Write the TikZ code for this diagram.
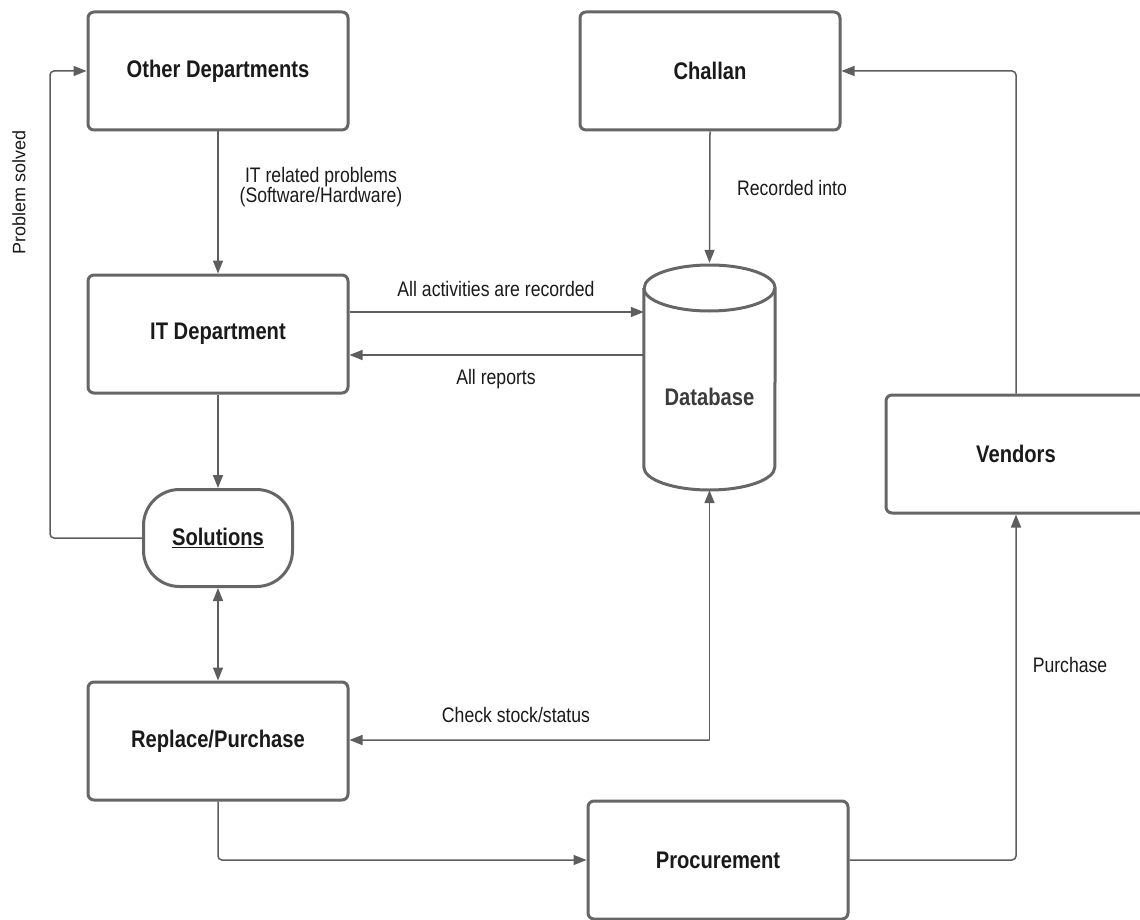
\documentclass[tikz,border=0pt]{standalone}
\usepackage{fontspec}
\setmainfont{Liberation Sans}
\newfontfamily\narrowfont[FakeStretch=0.84]{Liberation Sans}
\usetikzlibrary{arrows.meta,calc}
\definecolor{linegray}{HTML}{5E5E5E}
\definecolor{boxgray}{HTML}{666666}
\definecolor{txt}{HTML}{1A1A1A}
\begin{document}
\begin{tikzpicture}[x=1pt,y=-1pt,
  stepbox/.style={draw=boxgray,line width=3pt,rounded corners=6pt,fill=white,
    minimum width=260pt,minimum height=118pt,inner sep=0pt,
    font=\narrowfont\bfseries\fontsize{24}{28}\selectfont,text=txt},
  pill/.style={draw=boxgray,line width=3pt,rounded corners=36pt,fill=white,
    minimum width=149pt,minimum height=97pt,inner sep=0pt,
    font=\narrowfont\bfseries\fontsize{24}{28}\selectfont,text=txt},
  conn/.style={draw=linegray,line width=1.5pt},
  arr/.style={conn,-{Triangle[length=13pt,width=10pt]}},
  darr/.style={conn,{Triangle[length=13pt,width=10pt]}-{Triangle[length=13pt,width=10pt]}},
  lbl/.style={font=\narrowfont\fontsize{21}{20}\selectfont,text=txt,inner sep=1pt,align=center}]
\useasboundingbox (0,0) rectangle (1140,920);
\fill[white] (0,0) rectangle (1140,920);

% boxes
\node[stepbox] (other) at (218,71) {Other Departments};
\node[stepbox] (challan) at (710,71) {Challan};
\node[stepbox] (it) at (218,334) {IT Department};
\node[pill] (sol) at (218,538) {\underline{Solutions}};
\node[stepbox] (repl) at (218,741) {Replace/Purchase};
\node[stepbox] (vend) at (1016,454) {Vendors};
\node[stepbox] (proc) at (718,860) {Procurement};

% database cylinder
\node[minimum width=131pt,minimum height=227pt,inner sep=0pt] (db) at (709.5,376.5) {};
\draw[boxgray,line width=3pt,fill=white]
  (db.west |- 0,288) -- (db.west |- 0,467)
  arc[start angle=180,end angle=360,x radius=65.5pt,y radius=23pt]
  -- (db.east |- 0,288)
  arc[start angle=0,end angle=180,x radius=65.5pt,y radius=23pt];
\draw[boxgray,line width=3pt]
  (db.west |- 0,288) arc[start angle=180,end angle=360,x radius=65.5pt,y radius=23pt];
\node[font=\narrowfont\bfseries\fontsize{24}{28}\selectfont,text=txt!85] at ([yshift=-20pt]db.center) {Database};

% connectors
\draw[arr] (other.south) -- (it.north);
\node[lbl] at (321,187) {IT related problems\\(Software/Hardware)};

\draw[arr] (it.east |- 0,312) -- (db.west |- 0,312);
\node[lbl] at (496,289) {All activities are recorded};
\draw[arr] (db.west |- 0,355) -- (it.east |- 0,355);
\node[lbl] at (496,379) {All reports};

\draw[arr] (challan.south) -- (db.north);
\node[lbl] at (792,188) {Recorded into};

\draw[arr] (it.south) -- (sol.north);
\draw[arr,rounded corners=4pt] (sol.west) -- (50,538) -- (50,71) -- (other.west);
\node[font=\fontsize{18}{21}\selectfont,text=txt,rotate=90] at (19,192) {Problem solved};

\draw[darr] (sol.south) -- (repl.north);

\draw[arr] (db.south |- 0,740) -- (db.south);
\draw[arr,rounded corners=4pt] (db.south) ++(0,250) -- (repl.east |- 0,740);
\node[lbl] at (516,715) {Check stock/status};

\draw[arr,rounded corners=4pt] (repl.south) -- (218,860) -- (proc.west);
\draw[arr,rounded corners=4pt] (proc.east) -- (vend.south |- 0,860) -- (vend.south);
\node[lbl] at (1070,665) {Purchase};
\draw[arr,rounded corners=4pt] (vend.north) -- (vend.north |- 0,71) -- (challan.east);
\end{tikzpicture}
\end{document}
